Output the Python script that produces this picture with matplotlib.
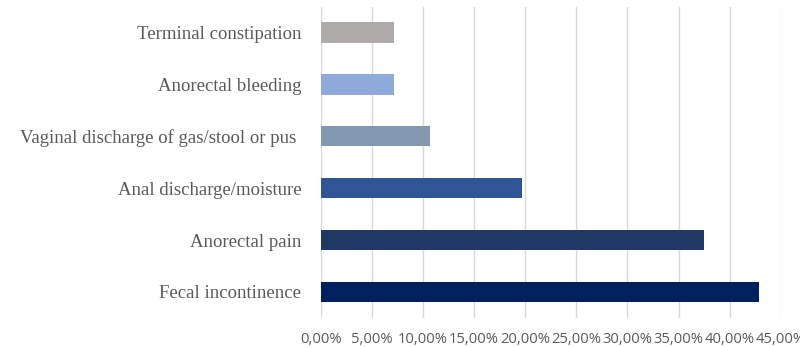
import numpy as np
import matplotlib.pyplot as plt
from matplotlib.ticker import FuncFormatter

# Symptoms, bottom to top
symptoms = ['Fecal incontinence', 'Anorectal pain', 'Anal discharge/moisture',
            'Vaginal discharge of gas/stool or pus ', 'Anorectal bleeding',
            'Terminal constipation']
shares = [42.86, 37.50, 19.64, 10.71, 7.14, 7.14]
colors = ['#002060', '#203864', '#2f5597', '#8497b0', '#8eaadb', '#aeaaaa']

fig = plt.figure(figsize=(8, 3.47), dpi=100)
ax = fig.add_axes([0.401, 0.084, 0.575, 0.897])

y = np.arange(len(symptoms))
ax.barh(y, shares, height=0.39, color=colors, zorder=3)

ax.set_xlim(0, 45)
ax.set_ylim(-0.5, len(symptoms) - 0.5)
ax.set_xticks(np.arange(0, 46, 5))
ax.xaxis.set_major_formatter(FuncFormatter(lambda v, p: f'{v:.2f}%'.replace('.', ',')))
ax.set_yticks(y)
ax.set_yticklabels(symptoms, family='Liberation Serif', fontsize=13.5, color='#595959')

for lbl in ax.get_xticklabels():
    lbl.set_family('Open Sans')
    lbl.set_fontsize(10.6)
    lbl.set_color('#595959')

ax.grid(axis='x', color='#d9d9d9', linewidth=1, zorder=0)
for s in ax.spines.values():
    s.set_visible(False)
ax.tick_params(axis='both', length=0)
ax.tick_params(axis='y', pad=14)
ax.tick_params(axis='x', pad=10)

fig.savefig('out.png', dpi=100)
